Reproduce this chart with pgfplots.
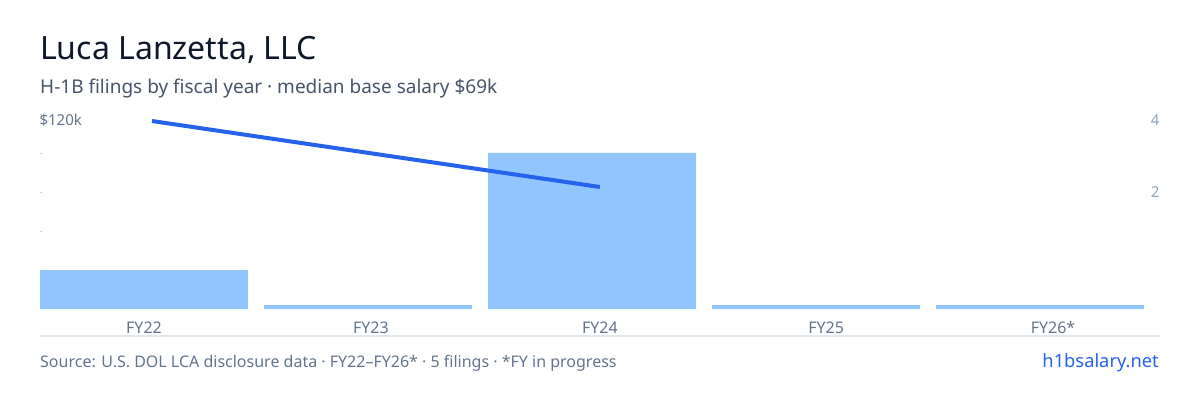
\documentclass[border=0pt]{standalone}
\usepackage{pgfplots}
\pgfplotsset{compat=1.18}
\usepackage{fontspec}
\setmainfont{Noto Sans}
\definecolor{bar}{HTML}{93C5FD}
\definecolor{line}{HTML}{2563EB}
\definecolor{ink}{HTML}{0F172A}
\definecolor{sub}{HTML}{475569}
\definecolor{mut}{HTML}{64748B}
\definecolor{rt}{HTML}{94A3B8}
\definecolor{rule}{HTML}{E2E8F0}
\definecolor{dash}{HTML}{CBD5E1}
\newcommand{\px}[1]{\fontsize{#1}{#1}\selectfont}
\pgfplotsset{common/.style={
  scale only axis, width=1120pt, height=200pt,
  at={(40pt,91pt)}, anchor=south west,
  xmin=-0.4643, xmax=4.5357, ymin=0,
  axis line style={draw=none},
  /pgf/number format/assume math mode=true,
}}
\begin{document}
\begin{tikzpicture}[x=1pt,y=1pt]
\useasboundingbox (0,0) rectangle (1200,400);
% bars: filings per fiscal year (0 filings drawn as a small stub)
\begin{axis}[common,
  ymax=5.128,
  axis y line*=right,
  xtick={0,1.013,2.035,3.045,4.058},
  xticklabels={FY22,FY23,FY24,FY25,FY26*},
  xticklabel style={font=\px{16}, text=mut, yshift=-9pt},
  x tick style={draw=none},
  major tick length=0pt,
  ytick={3.0,4.85},
  yticklabels={2,4},
  yticklabel style={font=\px{15}, text=rt, anchor=east, xshift=3pt},
  y tick style={draw=none},
]
\addplot[ybar, bar width=208pt, bar shift=0pt, fill=bar, draw=none]
  coordinates {(0,1) (1,0.1) (2,4) (3,0.1) (4,0.1)};
\end{axis}
% line: median salary, $k
\begin{axis}[common,
  ymax=128.2,
  axis y line*=left,
  xtick=\empty,
  ytick={50,75,100,125},
  yticklabels={},
  y tick style={draw=dash, line width=0.8pt},
  tick align=inside,
  major tick length=2pt,
  extra y ticks={121},
  extra y tick labels={\$120k},
  extra y tick style={
    major tick length=0pt,
    yticklabel style={font=\px{15}, text=mut, anchor=west, xshift=-4pt},
  },
]
\addplot[line, line width=4pt] coordinates {(0.0357,120.5) (2.035,78.2)};
\end{axis}
\draw[rule, line width=1.5pt] (40,64) -- (1160,64);
\node[anchor=base west, inner sep=0, text=ink, font=\px{32}] at (40,341) {Luca Lanzetta, LLC};
\node[anchor=base west, inner sep=0, text=sub, font=\px{19}] at (40,307) {H-1B filings by fiscal year · median base salary \$69k};
\node[anchor=base west, inner sep=0, text=mut, font=\px{16}] at (40,33) {Source: U.S. DOL LCA disclosure data · FY22–FY26* · 5 filings · *FY in progress};
\node[anchor=base east, inner sep=0, text=line, font=\px{18.3}] at (1159,33) {h1bsalary.net};
\end{tikzpicture}
\end{document}
